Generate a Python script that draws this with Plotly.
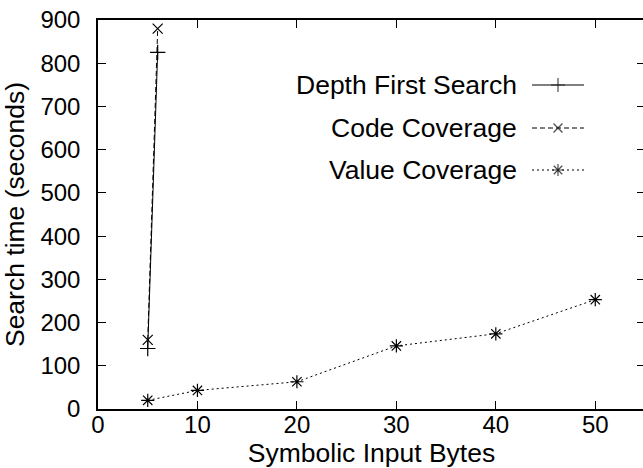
import plotly.graph_objects as go

# ---- data ----
dfs_x = [5, 6]
dfs_y = [140, 825]
code_x = [5, 6]
code_y = [160, 880]
value_x = [5, 10, 20, 30, 40, 50]
value_y = [20, 43, 63, 146, 174, 253]

series_names = ["Depth First Search", "Code Coverage", "Value Coverage"]
x_ticks = [0, 10, 20, 30, 40, 50]
y_ticks = [0, 100, 200, 300, 400, 500, 600, 700, 800, 900]

FONT = "Liberation Sans, Arial, Helvetica, sans-serif"
FS_TICK = 24
FS_TEXT = 26.5

styles = [
    dict(dash="solid", symbol="cross-thin", size=11),
    dict(dash="5px,3px", symbol="x-thin", size=10),
    dict(dash="2px,3px", symbol="asterisk", size=11),
]

fig = go.Figure()
for (xs, ys), name, st in zip([(dfs_x, dfs_y), (code_x, code_y), (value_x, value_y)], series_names, styles):
    fig.add_trace(go.Scatter(
        x=xs, y=ys, name=name, mode="lines+markers",
        line=dict(color="black", width=1, dash=st["dash"]),
        marker=dict(symbol=st["symbol"], size=st["size"], color="black",
                    line=dict(color="black", width=1.2)),
        showlegend=False, cliponaxis=False,
    ))

# the reference's right border lies just past the window edge
W, H = 647, 468
L, R, T, B = 98, 645, 20, 409

# custom gnuplot-style key (text on the left, sample on the right), in pixel-like overlay axes
row_y = [85, 128, 170]
sample_x = [532, 558, 584]
text_right = 519
for name, st, ry in zip(series_names, styles, row_y):
    fig.add_trace(go.Scatter(
        x=sample_x, y=[ry] * 3, xaxis="x2", yaxis="y2", mode="lines+markers",
        line=dict(color="black", width=1, dash=st["dash"]),
        marker=dict(symbol=st["symbol"], size=[0, st["size"] - 1, 0], color="black",
                    line=dict(color="black", width=1.2)),
        showlegend=False, hoverinfo="skip",
    ))
    fig.add_annotation(x=text_right, y=ry, xref="x2", yref="y2", text=name, showarrow=False,
                       xanchor="right", yanchor="middle",
                       font=dict(family=FONT, size=FS_TEXT, color="black"))

axis_common = dict(
    showgrid=False, zeroline=False, showline=True, linecolor="black", linewidth=1.5,
    ticks="inside", ticklen=8, tickwidth=1.2, tickcolor="black", mirror="ticks",
    tickfont=dict(family=FONT, size=FS_TICK, color="black"), automargin=False,
    ticklabeloverflow="allow",
)

fig.update_layout(
    width=W, height=H,
    margin=dict(l=L, r=W - R, t=T, b=H - B),
    paper_bgcolor="white", plot_bgcolor="white",
    xaxis=dict(range=[0, 55], tickvals=x_ticks, ticktext=[str(v) for v in x_ticks],
               ticklabelstandoff=-7,
               title=dict(text="Symbolic Input Bytes", font=dict(family=FONT, size=FS_TEXT, color="black"), standoff=0),
               **axis_common),
    yaxis=dict(range=[0, 900], tickvals=y_ticks, ticktext=[str(v) for v in y_ticks],
               ticklabelstandoff=11,
               title=dict(text="Search time (seconds)", font=dict(family=FONT, size=FS_TEXT, color="black"), standoff=8),
               **axis_common),
    xaxis2=dict(overlaying="x", range=[L, R], visible=False, fixedrange=True),
    yaxis2=dict(overlaying="y", range=[B, T], visible=False, fixedrange=True),
    showlegend=False,
)

# remove the page's default 8px body margin so the figure sits at the window's top-left corner
fig.write_html("out.html", config={"displayModeBar": False},
               post_script="document.body.style.margin='0';document.body.style.overflow='hidden';")
